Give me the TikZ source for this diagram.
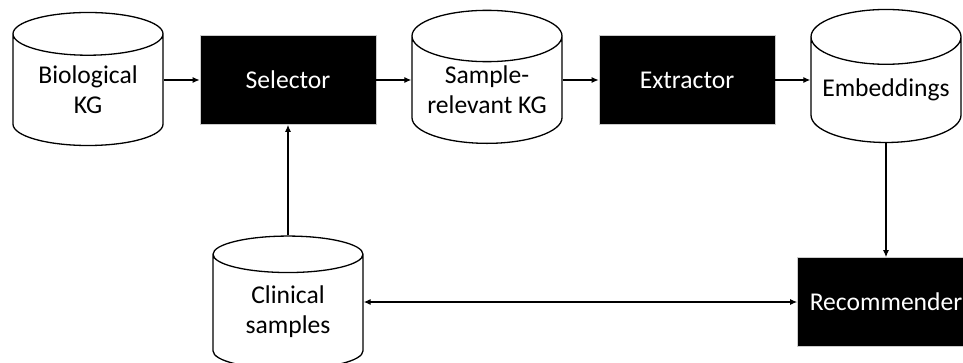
\documentclass[tikz,border=0pt]{standalone}
\usepackage{fontspec}
\setmainfont{Carlito}
\usetikzlibrary{shapes.geometric}
\usetikzlibrary{arrows.meta}
\usetikzlibrary{positioning}

\tikzset{
  store/.style={cylinder, shape border rotate=90, draw, line width=1.3pt,
    aspect=0.43, minimum width=150pt, minimum height=133pt, inner sep=0pt,
    align=center, font=\fontsize{25.6}{30}\selectfont},
  block/.style={rectangle, fill=black, draw=gray!40, line width=0.6pt,
    text=white, minimum width=176pt, minimum height=89pt,
    font=\fontsize{25.6}{30}\selectfont},
  link/.style={-{Latex[length=7pt,width=6pt]}, line width=1.2pt}
}

\begin{document}
\begin{tikzpicture}[x=1pt, y=-1pt]
\useasboundingbox (0,0) rectangle (963,362);

% top row
\node[store] (bio) at (88,90) {Biological\\KG};
\node[block] (sel) at (288,80) {Selector};
\node[store] (sam) at (487,90) {Sample-\\relevant KG};
\node[block] (ext) at (687,80) {Extractor};
\node[store] (emb) at (886,90) {Embeddings};

% bottom row
\node[store] (clin) at (288,312) {Clinical\\samples};
\node[block, minimum width=177pt] (rec) at (886,302) {Recommender};

\draw[link] (bio.east |- sel) -- (sel);
\draw[link] (sel) -- (sel -| sam.west);
\draw[link] (sam.east |- ext) -- (ext);
\draw[link] (ext) -- (ext -| emb.west);
\draw[link] (emb) -- (rec);
\draw[link] (clin) -- (sel);
\draw[link, {Latex[length=7pt,width=6pt]}-{Latex[length=7pt,width=6pt]}] (clin.east |- rec) -- (rec);

\end{tikzpicture}
\end{document}
